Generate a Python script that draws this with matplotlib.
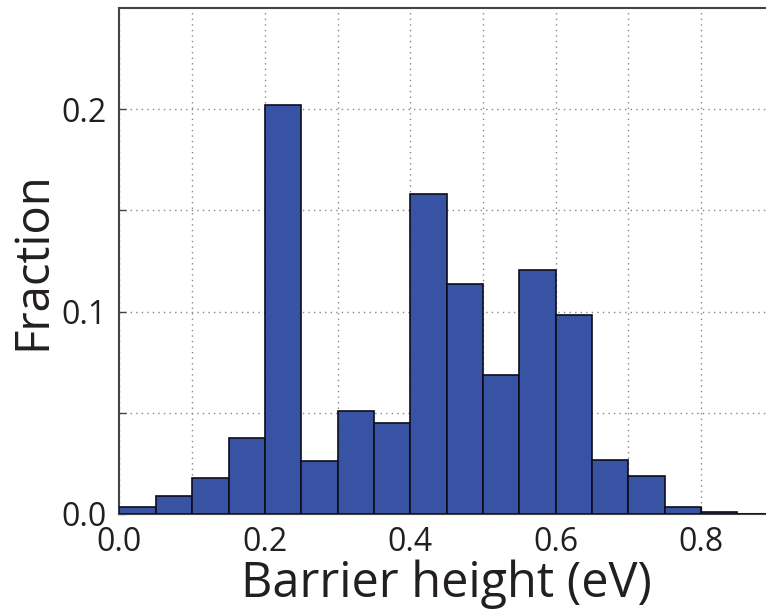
import numpy as np
import matplotlib.pyplot as plt

plt.rcParams['font.family'] = ['Open Sans', 'DejaVu Sans']

# histogram bins (eV) and fraction per bin
bin_edges = np.round(np.arange(0, 0.9001, 0.05), 2)
fractions = [0.0035, 0.0089, 0.0177, 0.0375, 0.202, 0.0262, 0.0511, 0.0449,
             0.158, 0.1134, 0.0688, 0.1208, 0.0985, 0.0267, 0.0188, 0.0036,
             0.001, 0.0]

fig = plt.figure(figsize=(7.66, 6.11), dpi=100)
ax = fig.add_axes([0.156, 0.1588, 0.854, 0.828])

ax.bar(bin_edges[:-1], fractions, width=0.05, align='edge',
       color='#3953a4', edgecolor='#0d0d1a', linewidth=1.2, zorder=3)

ax.set_xlim(0, 0.9)
ax.set_ylim(0, 0.25)
ax.set_xticks(np.arange(0, 0.9, 0.1))
ax.set_xticklabels(['0.0', '', '0.2', '', '0.4', '', '0.6', '', '0.8'])
ax.set_yticks([0, 0.05, 0.1, 0.15, 0.2])
ax.set_yticklabels(['0.0', '', '0.1', '', '0.2'])
ax.tick_params(direction='in', length=5, width=1, color='#444444',
               labelsize=23, labelcolor='#231f20', pad=9)
ax.grid(True, linestyle=(0, (1, 3)), color='#888888', linewidth=1, zorder=0)
for s in ax.spines.values():
    s.set_color('#444444')
    s.set_linewidth(1.5)

ax.set_xlabel('Barrier height (eV)', fontsize=35, color='#231f20', labelpad=0)
ax.set_ylabel('Fraction', fontsize=34, color='#231f20', labelpad=4)

fig.savefig('out.png', dpi=100)
